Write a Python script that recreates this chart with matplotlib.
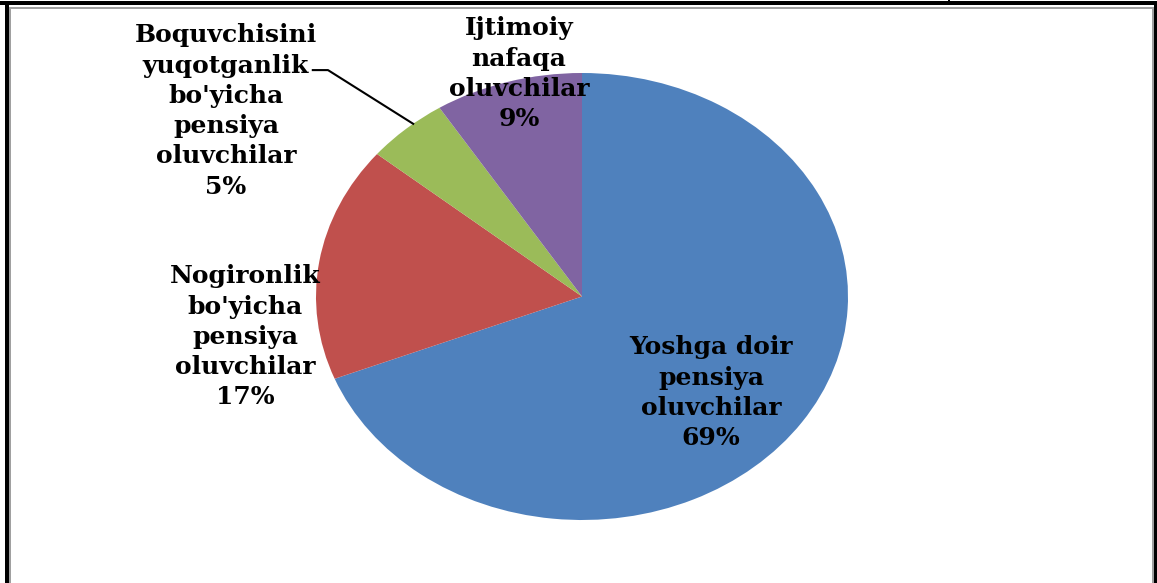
import numpy as np
import matplotlib.pyplot as plt
from matplotlib.patches import Rectangle

# Data
labels = ["Yoshga doir\npensiya\noluvchilar",
          "Nogironlik\nbo'yicha\npensiya\noluvchilar",
          "Boquvchisini\nyuqotganlik\nbo'yicha\npensiya\noluvchilar",
          "Ijtimoiy\nnafaqa\noluvchilar"]
shares = [69, 17, 5, 9]
colors = ["#4F81BD", "#C0504D", "#9BBB59", "#8064A2"]

# label placement (radius factor, angle shift in degrees) per slice
label_pos = [(0.648, -7.4), (1.28, 17.1), (1.575, 16.8), (1.024, -2.8)]

W, H = 1157, 583
fig = plt.figure(figsize=(W / 100, H / 100), dpi=100)

# pie ellipse: centre (582, 297), radii 266 x 223 px
cx, cy, rx, ry = 582, 296.5, 266, 223.5
lim = 1.25
ax = fig.add_axes([(cx - rx * lim) / W, (H - cy - ry * lim) / H,
                   2 * rx * lim / W, 2 * ry * lim / H])
wedges, _ = ax.pie(shares, colors=colors, startangle=90, counterclock=False,
                   wedgeprops=dict(linewidth=0))
ax.set_aspect('auto')
ax.set_xlim(-lim, lim)
ax.set_ylim(-lim, lim)
ax.axis('off')

font = dict(family='DejaVu Serif', fontweight='bold', fontsize=18,
            color='black', ha='center', va='center', linespacing=1.33)
for w, lab, val, (rf, shift) in zip(wedges, labels, shares, label_pos):
    ang = np.deg2rad((w.theta1 + w.theta2) / 2 + shift)
    x, y = rf * np.cos(ang), rf * np.sin(ang)
    ax.text(x, y, f"{lab}\n{val}%", clip_on=False, **font)

# leader line for the small green slice
g = wedges[2]
ga = np.deg2rad((g.theta1 + g.theta2) / 2 - 2)
ax.plot([-1.012, -0.955, np.cos(ga)], [1.013, 1.013, np.sin(ga)],
        color='black', lw=1.5, clip_on=False)

# table frame around the picture
def px_rect(x0, y0, x1, y1, c):
    fig.add_artist(Rectangle((x0 / W, 1 - y1 / H), (x1 - x0) / W, (y1 - y0) / H,
                             transform=fig.transFigure, color=c, lw=0))

px_rect(0, 1, W, 5, 'black')
px_rect(948, 0, 950, 5, 'black')
px_rect(5, 1, 8.5, H, 'black')
px_rect(1153.5, 1, W, H, 'black')
px_rect(8.5, 7, 10.5, H, '#a0a0a0')
px_rect(8.5, 7, 1152, 8.5, '#a0a0a0')
px_rect(1151.5, 7, 1153.5, H, '#a0a0a0')

fig.savefig("out.png", dpi=100)
